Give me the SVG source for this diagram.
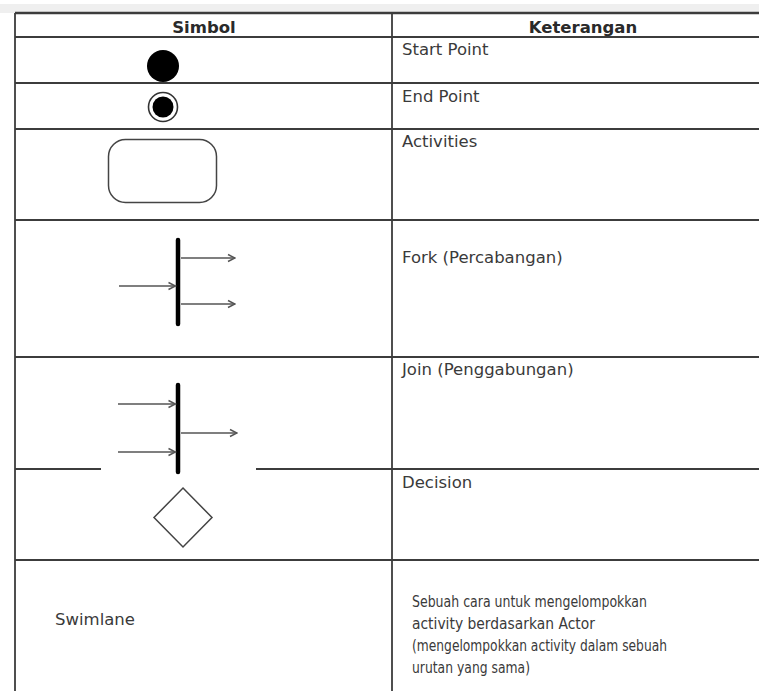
<svg xmlns="http://www.w3.org/2000/svg" width="759" height="691" viewBox="0 0 759 691">
  <style>
    .grid { stroke: #3c3c3c; stroke-width: 1.8; fill: none; }
    .head { font-family: "DejaVu Sans", Verdana, sans-serif; font-weight: bold; font-size: 16.5px; fill: #2a2a2a; text-anchor: middle; }
    .lbl { font-family: "DejaVu Sans", Verdana, sans-serif; font-size: 16.5px; fill: #3a3a3a; }
    .desc { font-family: "DejaVu Sans", Verdana, sans-serif; font-size: 15.5px; fill: #3a3a3a; }
    .bar { stroke: #000; stroke-width: 4.5; stroke-linecap: round; }
    .flow { stroke: #555; stroke-width: 1.5; fill: none; marker-end: url(#open); }
    .shape { fill: #fff; stroke: #444; stroke-width: 1.5; }
  </style>
  <defs>
    <marker id="open" viewBox="0 0 10 10" refX="9" refY="5" markerWidth="10" markerHeight="10" markerUnits="userSpaceOnUse" orient="auto">
      <path d="M2,1.5 L9,5 L2,8.5" fill="none" stroke="#555" stroke-width="1.5"/>
    </marker>
  </defs>

  <rect width="759" height="691" fill="#fff"/>
  <rect x="0" y="4" width="759" height="9" fill="#efefef"/>

  <!-- table grid -->
  <g id="table" class="grid">
    <line x1="15" y1="13" x2="759" y2="13" stroke-width="2.4"/>
    <line x1="15" y1="37" x2="759" y2="37"/>
    <line x1="15" y1="83" x2="759" y2="83"/>
    <line x1="15" y1="129" x2="759" y2="129"/>
    <line x1="15" y1="220" x2="759" y2="220"/>
    <line x1="15" y1="357" x2="759" y2="357"/>
    <line x1="15" y1="469" x2="101" y2="469"/>
    <line x1="256" y1="469" x2="759" y2="469"/>
    <line x1="15" y1="560" x2="759" y2="560"/>
    <line x1="15" y1="13" x2="15" y2="691"/>
    <line x1="392" y1="13" x2="392" y2="691"/>
  </g>

  <!-- header -->
  <g id="header">
    <text class="head" x="204" y="33">Simbol</text>
    <text class="head" x="583" y="33">Keterangan</text>
  </g>

  <!-- start point -->
  <g id="start-point">
    <circle cx="163" cy="66" r="16" fill="#000"/>
    <text class="lbl" x="402" y="55">Start Point</text>
  </g>

  <!-- end point -->
  <g id="end-point">
    <circle cx="163" cy="107" r="14.5" fill="#fff" stroke="#333" stroke-width="1.6"/>
    <circle cx="163" cy="107" r="10.5" fill="#000"/>
    <text class="lbl" x="402" y="102">End Point</text>
  </g>

  <!-- activity -->
  <g id="activities">
    <rect class="shape" x="108.5" y="139.5" width="108" height="63" rx="17"/>
    <text class="lbl" x="402" y="147">Activities</text>
  </g>

  <!-- fork -->
  <g id="fork">
    <line class="bar" x1="178" y1="240" x2="178" y2="324"/>
    <text class="lbl" x="402" y="263">Fork (Percabangan)</text>
  </g>

  <!-- join -->
  <g id="join">
    <line class="bar" x1="178" y1="385" x2="178" y2="472"/>
    <text class="lbl" x="402" y="375">Join (Penggabungan)</text>
  </g>

  <!-- decision -->
  <g id="decision">
    <polygon class="shape" points="183,488 212,517.5 183,547 154,517.5"/>
    <text class="lbl" x="402" y="488">Decision</text>
  </g>

  <!-- swimlane -->
  <g id="swimlane">
    <text class="lbl" x="55" y="625">Swimlane</text>
    <text class="desc" x="412" y="607" textLength="235" lengthAdjust="spacingAndGlyphs">Sebuah cara untuk mengelompokkan</text>
    <text class="desc" x="412" y="629" textLength="183" lengthAdjust="spacingAndGlyphs">activity berdasarkan Actor</text>
    <text class="desc" x="412" y="651" textLength="255" lengthAdjust="spacingAndGlyphs">(mengelompokkan activity dalam sebuah</text>
    <text class="desc" x="412" y="673" textLength="118" lengthAdjust="spacingAndGlyphs">urutan yang sama)</text>
  </g>

  <!-- flow arrows of fork and join -->
  <g id="connectors">
    <line class="flow" x1="119" y1="286" x2="175.5" y2="286"/>
    <line class="flow" x1="181" y1="258" x2="235" y2="258"/>
    <line class="flow" x1="181" y1="304" x2="235" y2="304"/>
    <line class="flow" x1="118" y1="404" x2="175.5" y2="404"/>
    <line class="flow" x1="118" y1="452" x2="175.5" y2="452"/>
    <line class="flow" x1="181" y1="433" x2="237" y2="433"/>
  </g>
</svg>
